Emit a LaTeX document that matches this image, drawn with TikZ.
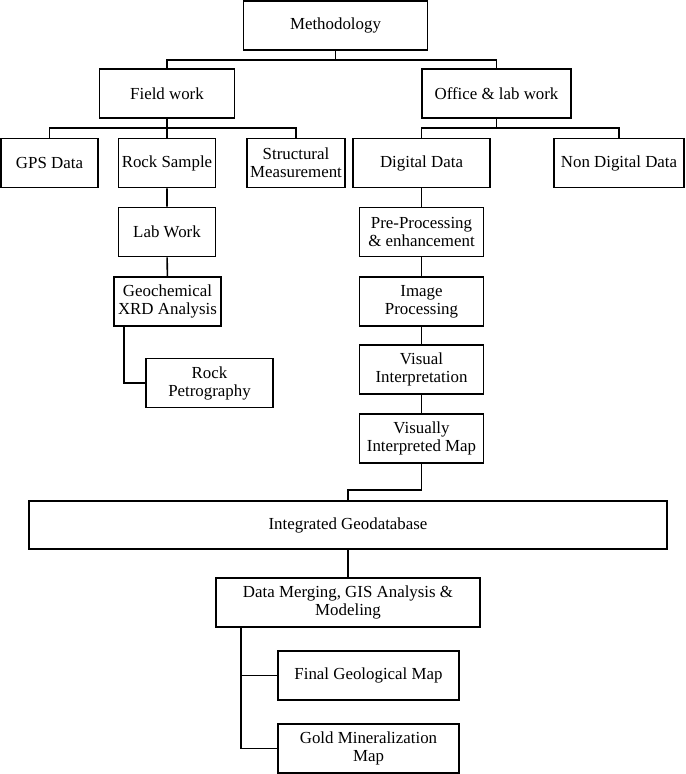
\documentclass[tikz,border=0pt]{standalone}
\usepackage{fontspec}
\setmainfont{Liberation Serif}
\usepackage{tikz}
\tikzset{box/.style={draw,line width=1.1pt,align=center,inner sep=1pt,minimum height=1.23cm,font=\fontsize{12}{12.8}\selectfont},
  link/.style={line width=1.1pt}}

\begin{document}
\begin{tikzpicture}[x=0.025cm,y=-0.025cm]
\useasboundingbox (0,0) rectangle (685,774);
% top levels
\node[box,minimum width=4.6cm] (meth) at (335.5,25.5) {Methodology};
\node[box,minimum width=3.375cm] (field) at (167,93.5) {Field work};
\node[box,minimum width=3.725cm] (office) at (496.5,93.5) {Office \& lab work};
\node[box,minimum width=2.425cm] (gps) at (49.5,163) {GPS Data};
\node[box,minimum width=2.425cm] (rock) at (167,163) {Rock Sample};
\node[box,minimum width=2.45cm] (struct) at (296,163) {Structural\\Measurement};
\node[box,minimum width=3.425cm] (digital) at (421.5,163) {Digital Data};
\node[box,minimum width=3.25cm] (nondig) at (619,163) {Non Digital Data};
% field column
\node[box,minimum width=2.425cm] (lab) at (167,232) {Lab Work};
\node[box,minimum width=2.675cm] (geo) at (167.5,301.5) {Geochemical\\XRD Analysis};
\node[box,minimum width=3.175cm] (petro) at (209.5,383) {Rock\\Petrography};
% office column
\node[box,minimum width=3.1cm] (pre) at (421.5,232) {Pre-Processing\\\& enhancement};
\node[box,minimum width=3.1cm] (img) at (421.5,301.5) {Image\\Processing};
\node[box,minimum width=3.1cm] (visi) at (421.5,369.5) {Visual\\Interpretation};
\node[box,minimum width=3.1cm] (vmap) at (421.5,438.5) {Visually\\Interpreted Map};
% bottom
\node[box,minimum width=15.95cm,minimum height=1.2cm] (igdb) at (348,525) {Integrated Geodatabase};
\node[box,minimum width=6.6cm] (merge) at (348,602.5) {Data Merging, GIS Analysis \&\\Modeling};
\node[box,minimum width=4.525cm] (final) at (368.5,675.5) {Final Geological Map};
\node[box,minimum width=4.525cm] (gold) at (368.5,748.5) {Gold Mineralization\\Map};

\coordinate (mb) at (335.5,60);
\coordinate (fb) at (167,128);
\coordinate (ob) at (496.5,128);
\coordinate (vb) at (421.5,490);
\draw[link] (meth.south) -- (mb);
\draw[link] (field.north) |- (mb) -| (office.north);
\draw[link] (field.south) -- (rock.north);
\draw[link] (gps.north) |- (fb) -| (struct.north);
\draw[link] (office.south) -- (ob);
\draw[link] (digital.north) |- (ob) -| (nondig.north);
\draw[link] (rock) -- (lab) -- (geo);
\draw[link] ([xshift=0.275cm]geo.south west) |- (petro.west);
\draw[link] (digital) -- (pre) -- (img) -- (visi) -- (vmap);
\draw[link] (vmap.south) -- (vb) -| (igdb.north);
\draw[link] (igdb) -- (merge);
\draw[link] ([xshift=0.65cm]merge.south west) |- (final.west);
\draw[link] ([xshift=0.65cm]merge.south west) |- (gold.west);
\end{tikzpicture}
\end{document}
